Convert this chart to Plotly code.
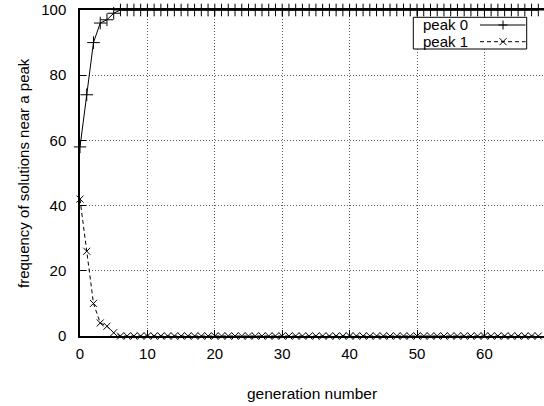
import plotly.graph_objects as go

# ---- data ----
generations = list(range(0, 69))
peak0 = [58, 74, 90, 96, 97, 99] + [100] * (69 - 6)
peak1 = [42, 26, 10, 4, 3, 1] + [0] * (69 - 6)
x_ticks = [0, 10, 20, 30, 40, 50, 60]
y_ticks = [0, 20, 40, 60, 80, 100]
series_names = ["peak 0", "peak 1"]

W, H = 544, 406
ML, MR, MT, MB = 80, 0, 10, 70
PW, PH = W - ML - MR, H - MT - MB
FONT = "Liberation Sans, Arial, Helvetica, sans-serif"
FS = 15


def px(x):
    return (x - ML) / PW


def py(y):
    return (H - MB - y) / PH


fig = go.Figure()
fig.add_trace(go.Scatter(
    x=generations, y=peak0, mode="lines+markers", name=series_names[0],
    line=dict(color="black", width=1),
    marker=dict(symbol="cross-thin", size=9, line=dict(color="black", width=1)),
    cliponaxis=False, showlegend=False))
fig.add_trace(go.Scatter(
    x=generations, y=peak1, mode="lines+markers", name=series_names[1],
    line=dict(color="black", width=1, dash="4px,3px"),
    marker=dict(symbol="x-thin", size=7, line=dict(color="black", width=1)),
    cliponaxis=False, showlegend=False))

axis_common = dict(
    showline=True, linecolor="black", linewidth=1.5,
    ticks="inside", ticklen=6, tickcolor="black", tickwidth=1,
    showgrid=True, gridcolor="rgb(90,90,90)", griddash="1px,2px", gridwidth=1,
    zeroline=False, tickfont=dict(family=FONT, size=FS, color="black"),
)
fig.update_xaxes(range=[0, PW / 6.74], tickvals=x_ticks, mirror="ticks",
                 ticklabelstandoff=3, **axis_common)
fig.update_yaxes(range=[0, 100], tickvals=y_ticks, mirror=False,
                 ticklabelstandoff=9, **axis_common)

shapes = []
annotations = []
# legend box
bx0, bx1, by0, by1 = 413.3, 526.7, 17.3, 49.0
shapes.append(dict(type="rect", xref="paper", yref="paper",
                   x0=px(bx0), x1=px(bx1), y0=py(by1), y1=py(by0),
                   line=dict(color="black", width=1), fillcolor="white", layer="above"))
for i, (name, yc) in enumerate(zip(series_names, [25.0, 41.7])):
    annotations.append(dict(text=name, xref="paper", yref="paper", x=px(421.0), y=py(yc),
                            xanchor="left", yanchor="middle", showarrow=False,
                            font=dict(family=FONT, size=FS, color="black")))
    shapes.append(dict(type="line", xref="paper", yref="paper",
                       x0=px(480), x1=px(525.5), y0=py(yc), y1=py(yc),
                       line=dict(color="black", width=1, dash="solid" if i == 0 else "4px,3px"),
                       layer="above"))
    mx = 503
    if i == 0:
        shapes.append(dict(type="line", xref="paper", yref="paper", x0=px(mx - 4.5), x1=px(mx + 4.5),
                           y0=py(yc), y1=py(yc), line=dict(color="black", width=1), layer="above"))
        shapes.append(dict(type="line", xref="paper", yref="paper", x0=px(mx), x1=px(mx),
                           y0=py(yc - 4.5), y1=py(yc + 4.5), line=dict(color="black", width=1), layer="above"))
    else:
        shapes.append(dict(type="line", xref="paper", yref="paper", x0=px(mx - 3.5), x1=px(mx + 3.5),
                           y0=py(yc - 3.5), y1=py(yc + 3.5), line=dict(color="black", width=1), layer="above"))
        shapes.append(dict(type="line", xref="paper", yref="paper", x0=px(mx - 3.5), x1=px(mx + 3.5),
                           y0=py(yc + 3.5), y1=py(yc - 3.5), line=dict(color="black", width=1), layer="above"))

annotations.append(dict(text="generation number", xref="paper", yref="paper",
                        x=0.5, y=py(393), xanchor="center", yanchor="middle", showarrow=False,
                        font=dict(family=FONT, size=15.5, color="black")))
annotations.append(dict(text="frequency of solutions near a peak", xref="paper", yref="paper",
                        x=px(23), y=0.5, xanchor="center", yanchor="middle", showarrow=False,
                        textangle=-90, font=dict(family=FONT, size=15, color="black")))

fig.update_layout(
    width=W, height=H, margin=dict(l=ML, r=MR, t=MT, b=MB),
    plot_bgcolor="white", paper_bgcolor="white",
    shapes=shapes, annotations=annotations, showlegend=False,
)
fig.write_html("out.html")
